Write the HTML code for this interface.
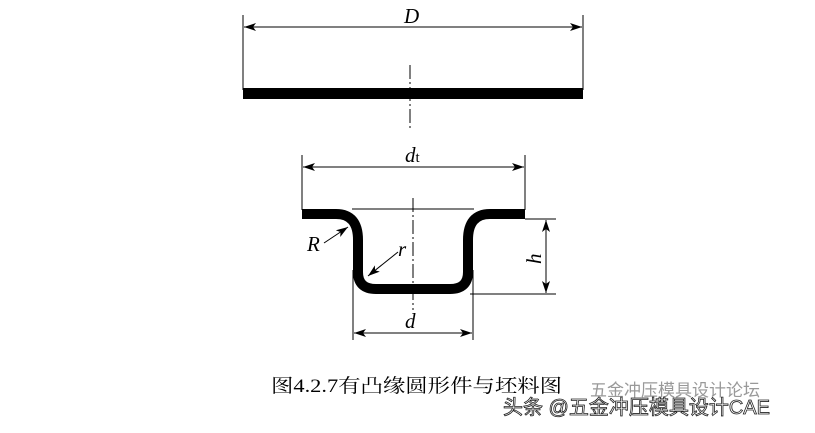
<!DOCTYPE html>
<html><head><meta charset="utf-8"><style>
body{margin:0;background:#fff;width:815px;height:428px;overflow:hidden}
</style></head><body>
<svg width="815" height="428" viewBox="0 0 815 428" xmlns="http://www.w3.org/2000/svg">
<defs>
<marker id="a" viewBox="0 0 12 8" refX="12" refY="4" markerWidth="12" markerHeight="8" orient="auto-start-reverse" markerUnits="userSpaceOnUse"><path d="M0,0 L12,4 L0,8 L3,4 Z" fill="#000"/></marker>
</defs>
<g stroke="#000" stroke-width="1" fill="none">
<line x1="243" y1="15" x2="243" y2="90"/>
<line x1="583" y1="15" x2="583" y2="90"/>
<line x1="244" y1="27" x2="582" y2="27" marker-start="url(#a)" marker-end="url(#a)"/>
<line x1="410" y1="65" x2="410" y2="130" stroke-dasharray="14,3,2,3"/>
<line x1="302" y1="155" x2="302" y2="210"/>
<line x1="525" y1="155" x2="525" y2="210"/>
<line x1="303" y1="167" x2="524" y2="167" marker-start="url(#a)" marker-end="url(#a)"/>
<line x1="413" y1="198" x2="413" y2="310" stroke-dasharray="14,3,2,3"/>
<line x1="352" y1="209" x2="474" y2="209"/>
<line x1="525" y1="219" x2="556" y2="219"/>
<line x1="470" y1="294" x2="556" y2="294"/>
<line x1="546" y1="220" x2="546" y2="293" marker-start="url(#a)" marker-end="url(#a)"/>
<line x1="353" y1="270" x2="353" y2="340"/>
<line x1="473" y1="270" x2="473" y2="340"/>
<line x1="354" y1="333" x2="472" y2="333" marker-start="url(#a)" marker-end="url(#a)"/>
<line x1="324" y1="243" x2="348" y2="227" marker-end="url(#a)"/>
<line x1="398" y1="252" x2="368" y2="276" marker-end="url(#a)"/>
</g>
<rect x="243" y="88" width="340" height="11" fill="#000"/>
<path d="M302,214 L336,214 Q358,214 358,240 L358,272 Q358,289 376,289 L450,289 Q468,289 468,272 L468,240 Q468,214 490,214 L525,214" stroke="#000" stroke-width="10" fill="none"/>
<g font-family="Liberation Serif, serif" font-style="italic" font-size="21" fill="#000">
<text x="404" y="23">D</text>
<text x="405" y="162">d<tspan font-style="normal" font-size="15">t</tspan></text>
<text x="307" y="251">R</text>
<text x="398" y="256">r</text>
<text x="405" y="328">d</text>
<text transform="translate(541,264) rotate(-90)">h</text>
</g>
<text x="271" y="392" textLength="291" lengthAdjust="spacingAndGlyphs" font-family="Liberation Serif, 'Noto Serif CJK SC', serif" font-size="19" fill="#000">图4.2.7有凸缘圆形件与坯料图</text>
<text x="590" y="396" font-family="Liberation Sans, 'Noto Sans CJK SC', sans-serif" font-size="17" fill="#999">五金冲压模具设计论坛</text>
<text x="503" y="414" font-family="Liberation Sans, 'Noto Sans CJK SC', sans-serif" font-size="20" fill="#fff" stroke="#222" stroke-width="0.8">头条 @五金冲压模具设计CAE</text>
</svg>
</body></html>
